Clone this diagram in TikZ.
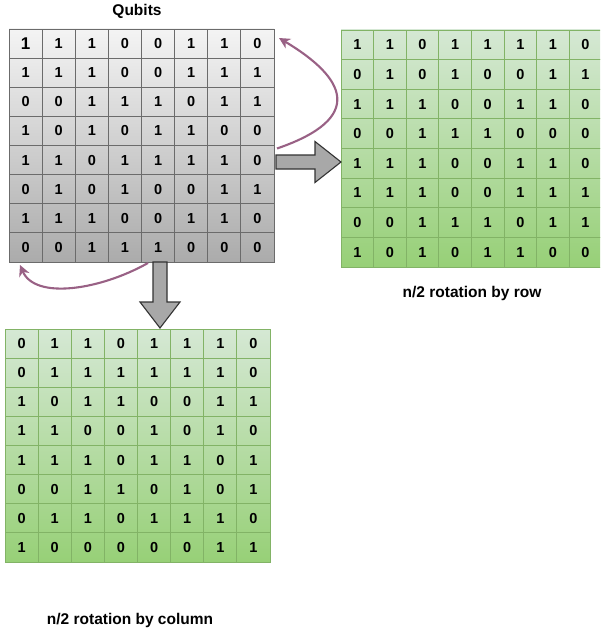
\documentclass[tikz,border=0pt]{standalone}
\usepackage{fontspec}
\setmainfont{Liberation Sans}
\usetikzlibrary{arrows.meta,calc}

\definecolor{grayTop}{HTML}{F4F4F4}
\definecolor{grayBottom}{HTML}{ABABAB}
\definecolor{grayLine}{HTML}{6B6B6B}
\definecolor{greenTop}{HTML}{D5E8D4}
\definecolor{greenBottom}{HTML}{97D077}
\definecolor{greenLine}{HTML}{82B366}
\definecolor{blockFill}{HTML}{A8A8A8}
\definecolor{blockLine}{HTML}{333333}
\definecolor{twistColor}{HTML}{996185}

% An 8x8 table of bits: #1 name, #2/#3 top-left corner, #4/#5 cell size,
% #6 style of the whole table, #7 style of a cell, #8 the rows
\newcommand\bitgrid[8]{%
  \node[#6, anchor=north west, minimum width=8*#4pt, minimum height=8*#5pt] (#1) at (#2,#3) {};
  \foreach \row [count=\r from 0] in {#8} {
    \foreach \b [count=\c from 0] in \row {
      \node[#7, minimum width=#4pt, minimum height=#5pt, bitcell #1-\r-\c/.try]
        (#1-\r-\c) at ({#2+(\c+0.5)*#4},{#3+(\r+0.5)*#5}) {\b};
    }
  }
}

\tikzset{
  graytable/.style={inner sep=0pt, outer sep=0pt, top color=grayTop, bottom color=grayBottom},
  greentable/.style={inner sep=0pt, outer sep=0pt, top color=greenTop, bottom color=greenBottom},
  graycell/.style={draw=grayLine, line width=0.8pt, inner sep=0pt, outer sep=0pt,
    font=\fontsize{14.5}{16}\selectfont\bfseries},
  greencell/.style={draw=greenLine, line width=0.8pt, inner sep=0pt, outer sep=0pt,
    font=\fontsize{14.5}{16}\selectfont\bfseries},
  bitcell q-0-0/.style={font=\fontsize{17}{18}\selectfont\bfseries},
  caption/.style={font=\fontsize{15.5}{17}\selectfont\bfseries, inner sep=0pt},
  blockarrow/.style={fill=blockFill, draw=blockLine, line width=1.1pt, line join=miter},
  twist/.style={draw=twistColor, line width=2.1pt,
    -{Stealth[length=11pt, width=11pt, inset=3.5pt]}},
}

\begin{document}
\begin{tikzpicture}[x=1pt, y=-1pt]
  \clip (0,0) rectangle (600,634);
  \fill[white] (0,0) rectangle (600,634);

  % register of qubits
  \bitgrid{q}{9}{29}{33.125}{29.125}{graytable}{graycell}{
    {1,1,1,0,0,1,1,0},
    {1,1,1,0,0,1,1,1},
    {0,0,1,1,1,0,1,1},
    {1,0,1,0,1,1,0,0},
    {1,1,0,1,1,1,1,0},
    {0,1,0,1,0,0,1,1},
    {1,1,1,0,0,1,1,0},
    {0,0,1,1,1,0,0,0}}
  \node[caption] (qlabel) at (137,11) {Qubits};

  % after rotating the rows
  \bitgrid{row}{341}{30}{32.6}{29.625}{greentable}{greencell}{
    {1,1,0,1,1,1,1,0},
    {0,1,0,1,0,0,1,1},
    {1,1,1,0,0,1,1,0},
    {0,0,1,1,1,0,0,0},
    {1,1,1,0,0,1,1,0},
    {1,1,1,0,0,1,1,1},
    {0,0,1,1,1,0,1,1},
    {1,0,1,0,1,1,0,0}}
  \node[caption] (rowlabel) at (472,293) {n/2 rotation by row};

  % after rotating the columns
  \bitgrid{col}{5}{329}{33.125}{29.125}{greentable}{greencell}{
    {0,1,1,0,1,1,1,0},
    {0,1,1,1,1,1,1,0},
    {1,0,1,1,0,0,1,1},
    {1,1,0,0,1,0,1,0},
    {1,1,1,0,1,1,0,1},
    {0,0,1,1,0,1,0,1},
    {0,1,1,0,1,1,1,0},
    {1,0,0,0,0,0,1,1}}
  \node[caption] (collabel) at (130,620) {n/2 rotation by column};

  % block arrows from the register to the results
  \coordinate (ra-s) at ($(q.east |- 0,162)+(2,0)$);
  \coordinate (ra-t) at (row.west |- ra-s);
  \draw[blockarrow] ($(ra-s)+(0,-7)$) -- ($(ra-t)+(-26,-7)$) -- ($(ra-t)+(-26,-20.5)$)
    -- (ra-t) -- ($(ra-t)+(-26,20.5)$) -- ($(ra-t)+(-26,7)$) -- ($(ra-s)+(0,7)$) -- cycle;

  \coordinate (da-s) at (q.south -| 160,0);
  \coordinate (da-t) at ($(col.north -| da-s)+(0,-1)$);
  \draw[blockarrow] ($(da-s)+(-7,0)$) -- ($(da-t)+(-7,-26)$) -- ($(da-t)+(-20,-26)$)
    -- (da-t) -- ($(da-t)+(20,-26)$) -- ($(da-t)+(7,-26)$) -- ($(da-s)+(7,0)$) -- cycle;

  % wrap-around of the rotations
  \draw[twist] ($(q.east)+(3,3)$) .. controls (366,118) and (346,78) .. ($(q.north east)+(5,9)$);
  \draw[twist] ($(q.south)+(6.5,1)$) .. controls (100,290) and (35,300) .. ($(q.south west)+(11,3)$);
\end{tikzpicture}
\end{document}
